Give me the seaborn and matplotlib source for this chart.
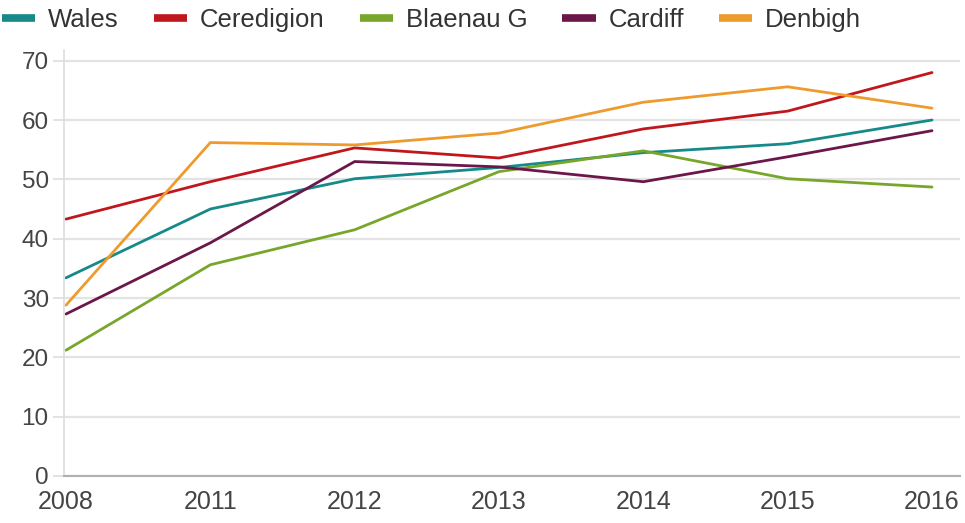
import matplotlib
matplotlib.use("Agg")
import matplotlib.pyplot as plt
import seaborn as sns
import pandas as pd
from matplotlib.lines import Line2D

years = ["2008", "2011", "2012", "2013", "2014", "2015", "2016"]
wales = [33.4, 45.0, 50.1, 52.0, 54.5, 56.0, 60.0]
ceredigion = [43.3, 49.6, 55.3, 53.6, 58.5, 61.5, 68.0]
blaenau_g = [21.2, 35.6, 41.5, 51.3, 54.8, 50.1, 48.7]
cardiff = [27.3, 39.3, 53.0, 52.1, 49.6, 53.8, 58.2]
denbigh = [28.8, 56.2, 55.8, 57.8, 63.0, 65.6, 62.0]

series_names = ["Wales", "Ceredigion", "Blaenau G", "Cardiff", "Denbigh"]
series_vals = [wales, ceredigion, blaenau_g, cardiff, denbigh]
colors = ["#16898a", "#c0171d", "#77a62b", "#6c1749", "#ee9b2d"]

rows = []
for name, vals in zip(series_names, series_vals):
    for yr, v in zip(years, vals):
        rows.append({"Year": yr, "Value": v, "Area": name})
df = pd.DataFrame(rows)

sns.set_theme(style="white")
plt.rcParams["font.family"] = ["Liberation Sans", "DejaVu Sans"]

fig = plt.figure(figsize=(9.65, 5.23), dpi=100)
ax = fig.add_axes([64/965, 1-476/523, (960-64)/965, (476-50)/523])

sns.lineplot(data=df, x="Year", y="Value", hue="Area", hue_order=series_names,
             palette=colors, linewidth=2.0, ax=ax, legend=False, sort=False)

ax.set_xlim(-0.014, 6.194)
ax.set_ylim(0, 71.8)
ax.set_yticks(range(0, 71, 10))
ax.grid(axis="y", color="#e3e3e3", linewidth=1.6)
ax.set_axisbelow(True)
for s in ["top", "right"]:
    ax.spines[s].set_visible(False)
ax.spines["left"].set_color("#dddddd")
ax.spines["left"].set_linewidth(1.2)
ax.spines["bottom"].set_color("#b0b0b0")
ax.spines["bottom"].set_linewidth(1.5)
ax.set_xlabel("")
ax.set_ylabel("")
ax.tick_params(axis="y", length=8, color="#dddddd", width=1.2, pad=3,
               labelsize=17.5, labelcolor="#444444", left=True)
ax.tick_params(axis="x", length=0, pad=10, labelsize=18, labelcolor="#444444")

handles = [Line2D([0], [0], color=c, linewidth=5.5, solid_capstyle="butt") for c in colors]
fig.legend(handles, series_names, loc="center left", bbox_to_anchor=(0.002, 0.962),
           ncol=5, frameon=False, fontsize=18.5, handlelength=1.3, handletextpad=0.5,
           columnspacing=1.36, labelcolor="#333333", borderaxespad=0, borderpad=0)

fig.savefig("out.png", dpi=100)
